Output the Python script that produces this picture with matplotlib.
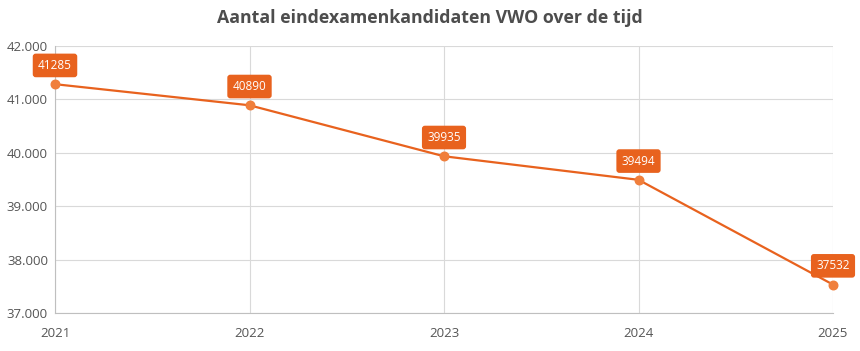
import matplotlib
matplotlib.use("Agg")
import matplotlib.pyplot as plt
import matplotlib.ticker as ticker

plt.rcParams['font.family'] = ['Open Sans', 'DejaVu Sans']

years = [2021, 2022, 2023, 2024, 2025]
candidates = [41285, 40890, 39935, 39494, 37532]
title = "Aantal eindexamenkandidaten VWO over de tijd"

line_color = "#E8621E"
marker_color = "#F07F3C"
grid_color = "#D9D9D9"
text_color = "#555555"

fig = plt.figure(figsize=(8.6, 3.51), dpi=100)
ax = fig.add_axes([55/860, 1-313/351, (833-55)/860, (313-46)/351])

ax.plot(years, candidates, color=line_color, lw=1.6, zorder=3)
ax.scatter(years, candidates, s=38, color=marker_color, zorder=4, clip_on=False)

for x, y in zip(years, candidates):
    ax.annotate(str(y), (x, y), xytext=(0, 13.5), textcoords="offset points",
                ha="center", va="center", color="white", fontsize=8.5,
                bbox=dict(boxstyle="round,pad=0.45,rounding_size=0.25",
                          fc="#E8621E", ec="none"),
                zorder=5, annotation_clip=False)

ax.set_xlim(2021, 2025)
ax.set_ylim(37000, 42000)
ax.set_xticks(years)
ax.yaxis.set_major_locator(ticker.MultipleLocator(1000))
ax.yaxis.set_major_formatter(ticker.FuncFormatter(lambda v, p: f"{int(v):,}".replace(",", ".")))
ax.grid(True, color=grid_color, lw=0.8)
ax.set_axisbelow(True)
for s in ["top", "right"]:
    ax.spines[s].set_visible(False)
for s in ["left", "bottom"]:
    ax.spines[s].set_color("#BFBFBF")
ax.tick_params(length=0, labelsize=9.5, colors=text_color)
ax.tick_params(axis="x", pad=10)
ax.tick_params(axis="y", pad=5)

fig.text(0.5, 1-18/351, title, ha="center", va="center", fontsize=12.8,
         fontweight="bold", color="#4D4D4D")

fig.savefig("out.png", dpi=100)
